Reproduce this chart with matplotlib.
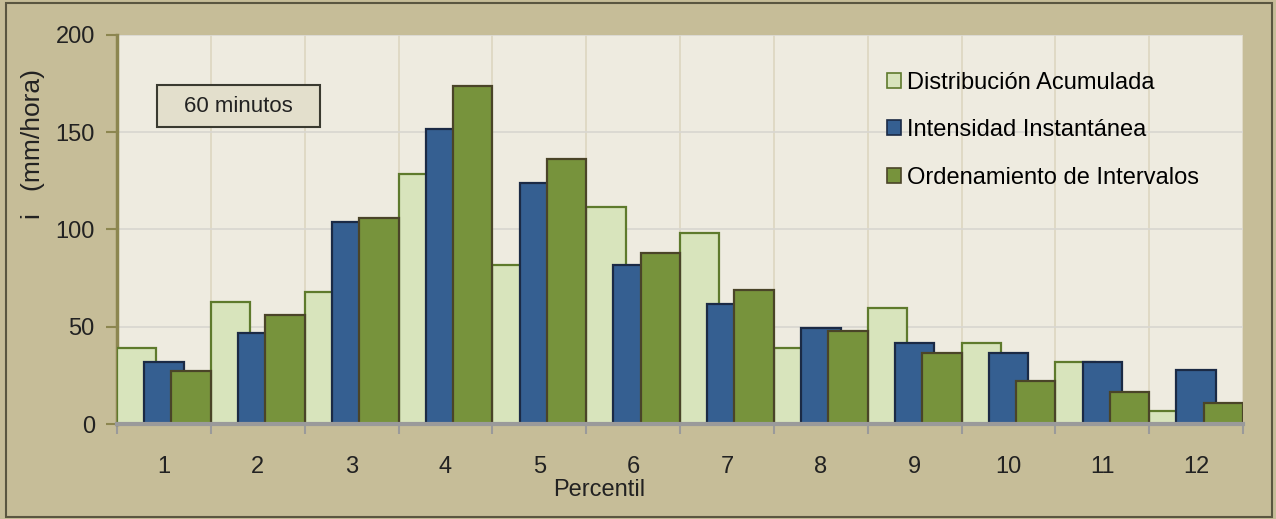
import numpy as np
import matplotlib.pyplot as plt
from matplotlib.patches import Rectangle

plt.rcParams['font.family'] = ['Liberation Sans', 'DejaVu Sans']

# Percentile groups and rainfall intensities (mm/hora)
percentiles = [str(i) for i in range(1, 13)]
dist_acumulada = [39, 62.5, 68, 128.5, 81.5, 111.5, 98, 39, 59.5, 41.5, 32, 6.5]
intensidad_inst = [32, 47, 104, 151.5, 124, 81.5, 61.5, 49.5, 41.5, 36.5, 32, 28]
ordenamiento = [27, 56, 106, 174, 136, 88, 69, 48, 36.5, 22, 16.5, 11]

series_names = ["Distribución Acumulada", "Intensidad Instantánea", "Ordenamiento de Intervalos"]
face_colors = ["#D8E4BC", "#355F91", "#77933C"]
edge_colors = ["#5E7A2C", "#1B2A45", "#4A4428"]

fig = plt.figure(figsize=(12.76, 5.19), dpi=100)
fig.patch.set_facecolor("#C6BD98")
ax = fig.add_axes([0.0917, 0.183, 0.8825, 0.7497])
ax.set_facecolor("#EEEBE0")

x = np.arange(len(percentiles))
width = 0.42
step = 0.29
left = x - 0.5
for k, vals in enumerate([dist_acumulada, intensidad_inst, ordenamiento]):
    ax.bar(left + k * step, vals, width=width, align="edge",
           color=face_colors[k], edgecolor=edge_colors[k], linewidth=1.6,
           label=series_names[k], zorder=3 + k)

ax.set_xlim(-0.5, len(percentiles) - 0.5)
ax.set_ylim(0, 200)
ax.set_yticks([0, 50, 100, 150, 200])
ax.set_xticks(x)
ax.set_xticklabels(percentiles)
ax.set_xticks(np.arange(len(percentiles) + 1) - 0.5, minor=True)

ax.tick_params(axis="y", labelsize=17, length=8, width=1.5, color="#8C8650",
               pad=8, labelcolor="#222222")
ax.tick_params(axis="x", which="major", labelsize=17, length=0, pad=23,
               labelcolor="#222222")
ax.tick_params(axis="x", which="minor", length=7, width=1.5, color="#9A9A9A")

ax.grid(axis="y", color="#D8D6D0", linewidth=1.2, zorder=0)
ax.grid(axis="x", which="minor", color="#DCD6C0", linewidth=1.2, zorder=0)
ax.set_axisbelow(True)

for side in ["top", "right"]:
    ax.spines[side].set_visible(False)
ax.spines["left"].set_color("#8C8650")
ax.spines["left"].set_linewidth(2.5)
ax.spines["bottom"].set_color("#9A9A9A")
ax.spines["bottom"].set_linewidth(3)
ax.spines["bottom"].set_zorder(10)

ax.set_xlabel("Percentil", fontsize=17, color="#222222")
ax.xaxis.set_label_coords(0.428, -0.142)
ax.set_ylabel("i   (mm/hora)", fontsize=19, color="#222222")
ax.yaxis.set_label_coords(-0.064, 0.72)

# caption box for the storm duration
ax.add_patch(Rectangle((0.0355, 0.763), 0.1445, 0.108, transform=ax.transAxes,
                       facecolor="#E3DFCC", edgecolor="#3A3A30", linewidth=1.5,
                       zorder=10))
ax.text(0.1078, 0.817, "60 minutos", transform=ax.transAxes, fontsize=16,
        ha="center", va="center", color="#222222", zorder=11)

leg = ax.legend(loc="upper left", bbox_to_anchor=(0.675, 0.93), frameon=False,
                fontsize=17, handlelength=0.6, handleheight=0.6,
                handletextpad=0.25, labelspacing=1.08, borderaxespad=0)
for h in leg.legend_handles:
    h.set_linewidth(1.2)

# outer frame of the figure
fig.add_artist(Rectangle((0.005, 0.004), 0.992, 0.99, transform=fig.transFigure,
                         fill=False, edgecolor="#5A5640", linewidth=1.5))

fig.savefig("out.png", dpi=100, facecolor=fig.get_facecolor())
